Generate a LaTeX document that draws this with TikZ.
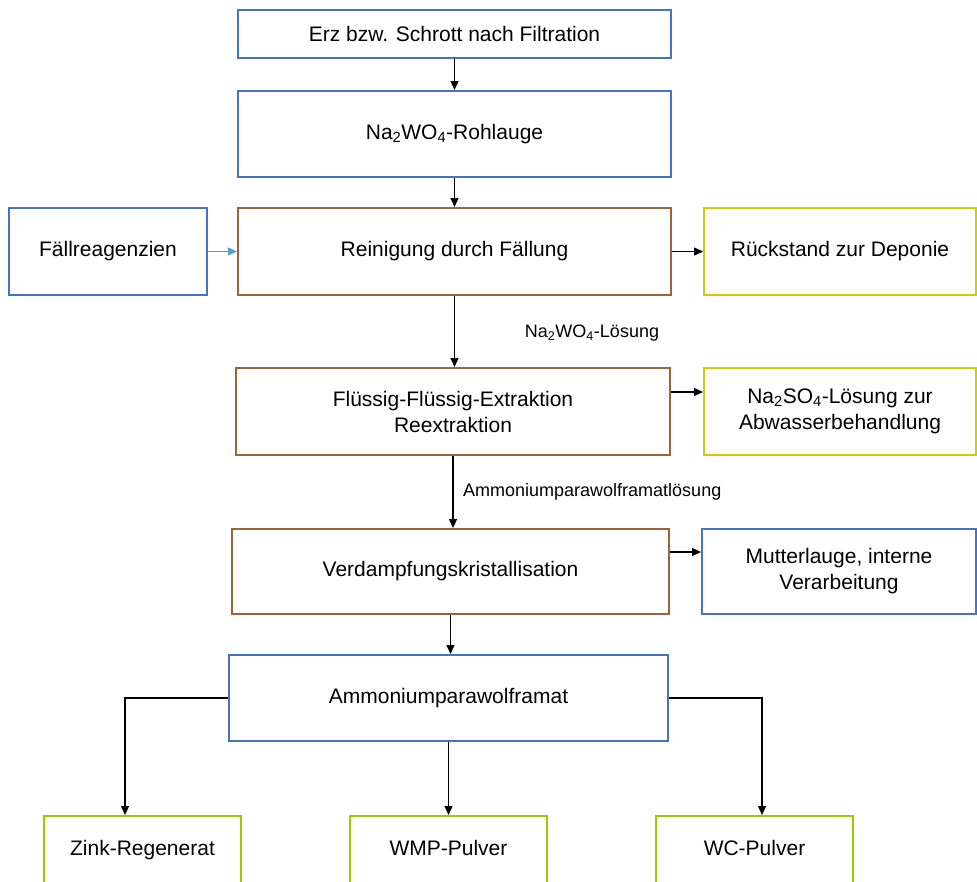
\documentclass[tikz,border=0pt]{standalone}
\usepackage{fontspec}
\setmainfont{Liberation Sans}
\usetikzlibrary{arrows.meta}
\definecolor{boxblue}{RGB}{68,114,196}
\definecolor{boxbrown}{RGB}{158,100,56}
\definecolor{boxyellow}{RGB}{206,206,0}
\definecolor{boxgreen}{RGB}{153,204,0}
\definecolor{feedblue}{RGB}{91,155,213}
\tikzset{
  boxfont/.style={font=\fontsize{21}{26}\selectfont},
  box/.style={draw, line width=2pt, rectangle, align=center, inner sep=2pt, boxfont},
  bluebox/.style={box, draw=boxblue},
  brownbox/.style={box, draw=boxbrown},
  yellowbox/.style={box, draw=boxyellow},
  greenbox/.style={box, draw=boxgreen},
  arr/.style={line width=1.3pt, -{Triangle[length=9pt,width=8pt]}},
  flowlabel/.style={font=\fontsize{18}{21}\selectfont, inner sep=0pt}
}
\begin{document}
\begin{tikzpicture}[x=1pt,y=-1pt]
\useasboundingbox (0,0) rectangle (977,881);
\clip (0,0) rectangle (977,881);
% main process column
\node[bluebox, minimum width=433pt, minimum height=48pt] (erz) at (454.5,34) {Erz bzw. Schrott nach Filtration};
\node[bluebox, minimum width=433pt, minimum height=86pt] (roh) at (454.5,134) {Na\textsubscript{2}WO\textsubscript{4}-Rohlauge};
\node[bluebox, minimum width=198pt, minimum height=87pt] (fae) at (108,251.5) {Fällreagenzien};
\node[brownbox, minimum width=433pt, minimum height=87pt] (rein) at (454.5,251.5) {Reinigung durch Fällung};
\node[yellowbox, minimum width=272pt, minimum height=87pt] (rue) at (840,251.5) {Rückstand zur Deponie};
\node[brownbox, minimum width=434pt, minimum height=87pt] (fl) at (453,411.5) {Flüssig-Flüssig-Extraktion\\Reextraktion};
\node[yellowbox, minimum width=272pt, minimum height=87pt] (ns) at (840,411.5) {Na\textsubscript{2}SO\textsubscript{4}-Lösung zur\\Abwasserbehandlung};
\node[brownbox, minimum width=437pt, minimum height=85pt] (vd) at (450.5,571.5) {Verdampfungskristallisation};
\node[bluebox, minimum width=274pt, minimum height=85pt] (ml) at (839,571.5) {Mutterlauge, interne\\Verarbeitung};
\node[bluebox, minimum width=439pt, minimum height=86pt] (apt) at (448.5,698) {Ammoniumparawolframat};
% product boxes run past the lower edge; their labels sit near the top
\node[greenbox, minimum width=197pt, minimum height=86pt] (zk) at (142.5,859) {};
\node[greenbox, minimum width=197pt, minimum height=86pt] (wmp) at (448.5,859) {};
\node[greenbox, minimum width=197pt, minimum height=86pt] (wc) at (754.5,859) {};
\node[boxfont, anchor=base] (zkt) at (142.5,855) {Zink-Regenerat};
\node[boxfont, anchor=base] (wmpt) at (448.5,855) {WMP-Pulver};
\node[boxfont, anchor=base] (wct) at (754.5,855) {WC-Pulver};
% connectors
\draw[arr] (erz.south) -- (roh.north);
\draw[arr] (roh.south) -- (rein.north);
\draw[arr, draw=feedblue, fill=feedblue, line width=1.1pt] (fae.east) -- (rein.west);
\draw[arr] (rein.east) -- (rue.west);
\draw[arr] (rein.south) -- (rein.south |- fl.north);
\draw[arr] ([yshift=19.5pt]fl.east) -- ([yshift=19.5pt]fl.east -| ns.west);
\draw[arr] (fl.south) -- (fl.south |- vd.north);
\draw[arr] ([yshift=19.5pt]vd.east) -- ([yshift=19.5pt]vd.east -| ml.west);
\draw[arr] (vd.south) -- (vd.south |- apt.north);
\draw[arr] (apt.west) -| ([xshift=-17.5pt]zk.north);
\draw[arr] (apt.south) -- (wmp.north);
\draw[arr] (apt.east) -| ([xshift=7.5pt]wc.north);
% flow labels
\node[flowlabel] (l1) at (592,333) {Na\textsubscript{2}WO\textsubscript{4}-Lösung};
\node[flowlabel, anchor=west] (l2) at (463,492) {Ammoniumparawolframatlösung};
\end{tikzpicture}
\end{document}
